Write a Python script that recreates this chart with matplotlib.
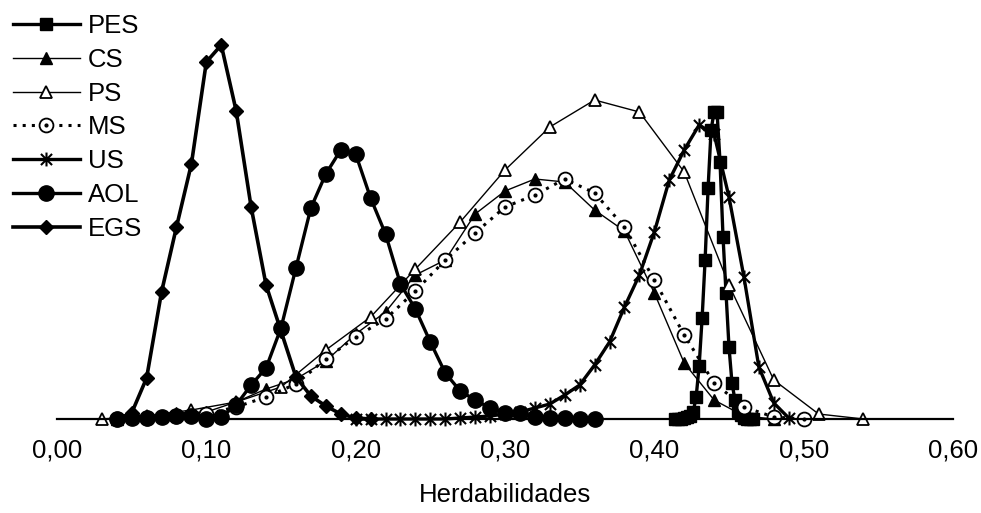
import matplotlib.pyplot as plt
import numpy as np
from matplotlib.path import Path
from matplotlib.ticker import FuncFormatter

plt.rcParams['font.family'] = ['Liberation Sans', 'DejaVu Sans']

# PES - passo 0,002
pes_x = [0.414, 0.416, 0.418, 0.420, 0.422, 0.424, 0.426, 0.428, 0.430, 0.432, 0.434, 0.436,
         0.438, 0.440, 0.442, 0.444, 0.446, 0.448, 0.450, 0.452, 0.454, 0.456, 0.458, 0.460,
         0.462, 0.464, 0.466]
pes_y = [0, 0, 0, 1, 2, 3, 7, 22, 53, 101, 159, 231,
         289, 307, 307, 257, 182, 126, 72, 36, 19, 8, 4, 1,
         0, 0, 0]

# CS - passo 0,02
cs_x = [0.04, 0.06, 0.08, 0.10, 0.12, 0.14, 0.16, 0.18, 0.20, 0.22, 0.24, 0.26,
        0.28, 0.30, 0.32, 0.34, 0.36, 0.38, 0.40, 0.42, 0.44, 0.46, 0.48]
cs_y = [0, 2, 6, 7, 17, 30, 40, 58, 85, 107, 144, 159,
        205, 228, 240, 237, 209, 188, 126, 56, 19, 3, 0]

# PS - passo 0,03
ps_x = [0.03, 0.06, 0.09, 0.12, 0.15, 0.18, 0.21, 0.24, 0.27, 0.30, 0.33, 0.36,
        0.39, 0.42, 0.45, 0.48, 0.51, 0.54]
ps_y = [0, 3, 9, 17, 32, 69, 102, 150, 197, 249, 292, 319,
        307, 247, 134, 39, 5, 0]

# MS - passo 0,02
ms_x = [0.04, 0.06, 0.08, 0.10, 0.12, 0.14, 0.16, 0.18, 0.20, 0.22, 0.24, 0.26,
        0.28, 0.30, 0.32, 0.34, 0.36, 0.38, 0.40, 0.42, 0.44, 0.46, 0.48, 0.50]
ms_y = [0, 1, 3, 5, 12, 22, 35, 60, 82, 100, 128, 159,
        186, 212, 224, 240, 226, 192, 139, 84, 36, 12, 2, 0]

# US - passo 0,01
us_x = [0.20, 0.21, 0.22, 0.23, 0.24, 0.25, 0.26, 0.27, 0.28, 0.29, 0.30, 0.31,
        0.32, 0.33, 0.34, 0.35, 0.36, 0.37, 0.38, 0.39, 0.40, 0.41, 0.42, 0.43,
        0.44, 0.45, 0.46, 0.47, 0.48, 0.49]
us_y = [0, 0, 0, 0, 0, 0, 0, 1, 2, 3, 5, 7,
        11, 15, 24, 34, 54, 77, 112, 144, 187, 239, 269, 294,
        285, 222, 142, 52, 16, 1]

# AOL - passo 0,01
aol_x = [0.04, 0.05, 0.06, 0.07, 0.08, 0.09, 0.10, 0.11, 0.12, 0.13, 0.14, 0.15,
         0.16, 0.17, 0.18, 0.19, 0.20, 0.21, 0.22, 0.23, 0.24, 0.25, 0.26, 0.27,
         0.28, 0.29, 0.30, 0.31, 0.32, 0.33, 0.34, 0.35, 0.36]
aol_y = [0, 1, 1, 2, 3, 3, 0, 2, 14, 34, 51, 91,
         151, 211, 245, 269, 265, 221, 185, 135, 110, 77, 46, 28,
         19, 11, 6, 6, 2, 1, 1, 0, 0]

# EGS - passo 0,01
egs_x = [0.04, 0.05, 0.06, 0.07, 0.08, 0.09, 0.10, 0.11, 0.12, 0.13, 0.14, 0.15,
         0.16, 0.17, 0.18, 0.19, 0.20, 0.21]
egs_y = [0, 6, 41, 127, 192, 255, 357, 374, 308, 212, 134, 88,
         42, 23, 13, 5, 1, 0]

x_ticks = [0.0, 0.1, 0.2, 0.3, 0.4, 0.5, 0.6]

# marcador estrela (X com traço vertical)
star = Path([(-1, -1), (1, 1), (-1, 1), (1, -1), (0, -1.25), (0, 1.25)],
            [Path.MOVETO, Path.LINETO, Path.MOVETO, Path.LINETO, Path.MOVETO, Path.LINETO])

fs = 18.5

fig = plt.figure(figsize=(9.81, 5.13), dpi=100)
ax = fig.add_axes([57 / 981, 94 / 513, 896 / 981, 400 / 513])

k = dict(color='black', clip_on=False)
h_pes, = ax.plot(pes_x, pes_y, marker='s', ms=8.5, lw=2.4, **k)
h_cs, = ax.plot(cs_x, cs_y, marker='^', ms=9, lw=1.0, **k)
h_ps, = ax.plot(ps_x, ps_y, marker='^', ms=9, lw=1.0, mfc='white', mew=1.3, **k)
h_ms, = ax.plot(ms_x, ms_y, marker='o', ms=10, lw=2.2, ls=(0, (1, 2)), mfc='white', mew=1.3, **k)
h_msd, = ax.plot(ms_x, ms_y, marker='.', ms=4, lw=0, **k)
h_us, = ax.plot(us_x, us_y, marker=star, ms=10, mew=1.5, lw=2.4, **k)
h_aol, = ax.plot(aol_x, aol_y, marker='o', ms=11, lw=2.4, **k)
h_egs, = ax.plot(egs_x, egs_y, marker='D', ms=7, lw=2.6, **k)

ax.set_xlim(0, 0.6)
ax.set_ylim(0, 400)
ax.set_xticks(x_ticks)
ax.xaxis.set_major_formatter(FuncFormatter(lambda v, p: f'{v:.2f}'.replace('.', ',')))
ax.tick_params(axis='x', length=0, pad=14, labelsize=fs)
ax.set_yticks([])
for s in ['left', 'right', 'top']:
    ax.spines[s].set_visible(False)
ax.spines['bottom'].set_linewidth(1.6)
ax.set_xlabel('Herdabilidades', fontsize=fs, labelpad=15)

ax.legend([h_pes, h_cs, h_ps, (h_ms, h_msd), h_us, h_aol, h_egs],
          ['PES', 'CS', 'PS', 'MS', 'US', 'AOL', 'EGS'],
          loc='upper left', bbox_to_anchor=(13 / 981, 1 - 14 / 513), bbox_transform=fig.transFigure,
          frameon=False, fontsize=fs, handlelength=2.6, handletextpad=0.3,
          labelspacing=0.38, borderpad=0, borderaxespad=0)

fig.savefig('out.png', dpi=100)
